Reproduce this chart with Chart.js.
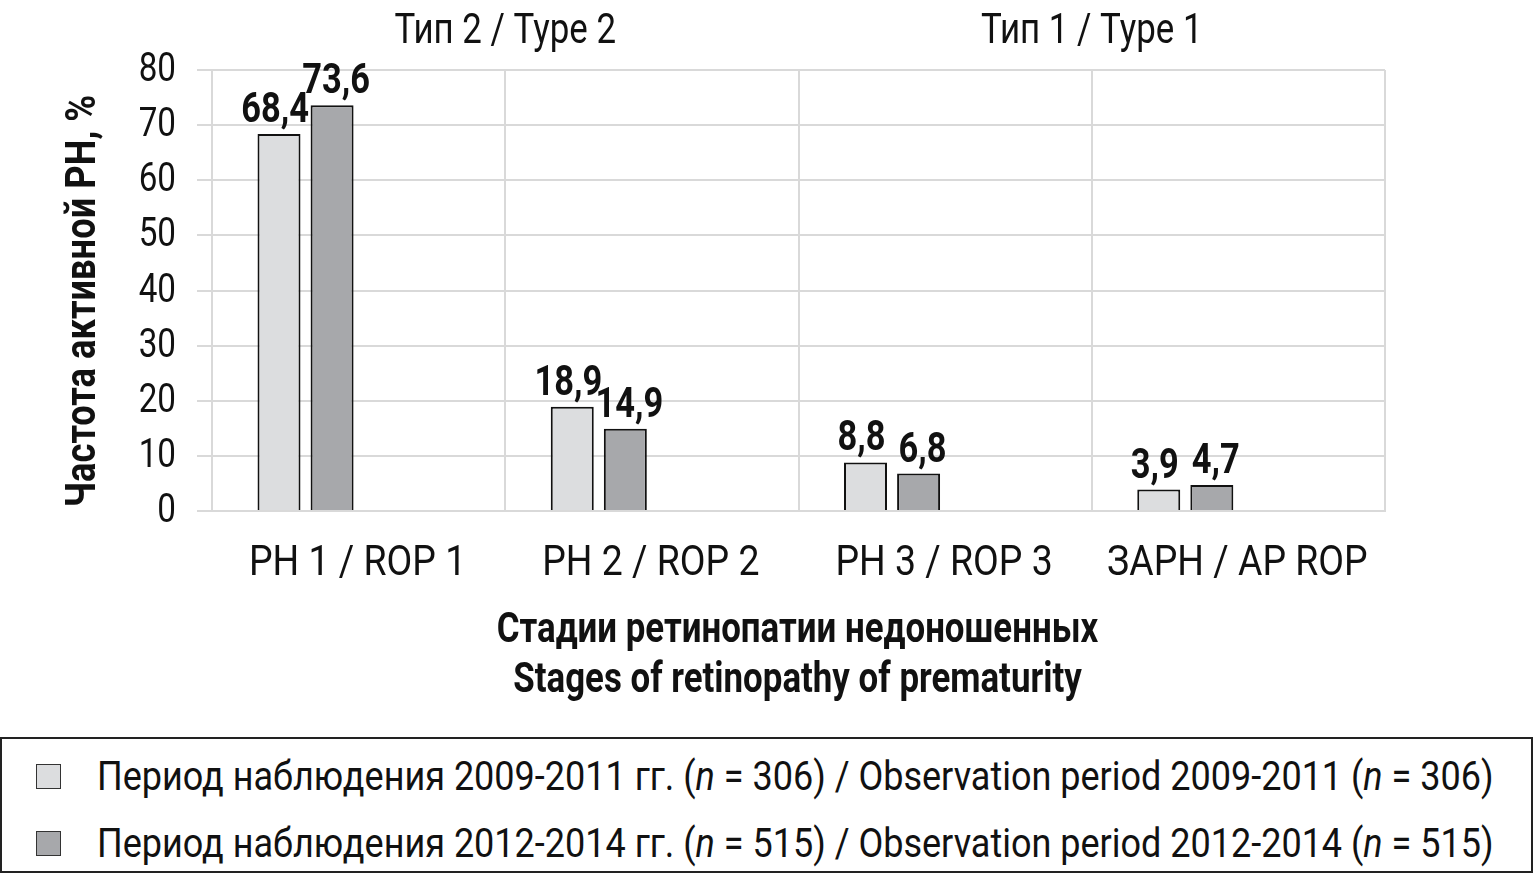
<!DOCTYPE html>
<html>
<head>
<meta charset="utf-8">
<script src="https://cdn.jsdelivr.net/npm/chart.js@4"></script>
<style>
  html, body { margin: 0; padding: 0; background: #fff; }
  body { width: 1535px; height: 888px; position: relative; overflow: hidden; font-family: Roboto, sans-serif; }
  #wrap { position: absolute; left: 0; top: 0; width: 1535px; height: 730px; }
  #legend { position: absolute; left: 0; top: 737px; width: 1529px; height: 132px;
            border: 2px solid #222; color: #111; }
  .item { position: absolute; left: 34px; height: 40px; display: flex; align-items: center; white-space: nowrap; }
  .sw { width: 25px; height: 25px; border: 1.5px solid #333; box-sizing: border-box; flex: none; }
  .txt { display: inline-block; margin-left: 36px; font-size: 40px; transform: scaleX(0.9); transform-origin: left center; }
</style>
</head>
<body>
<div id="wrap"><canvas id="c" width="1535" height="730"></canvas></div>
<div id="legend">
  <div class="item" style="top:17px"><div class="sw" style="background:#dcdddf"></div><span class="txt">Период наблюдения 2009-2011 гг. (<i>n</i> = 306) / Observation period 2009-2011 (<i>n</i> = 306)</span></div>
  <div class="item" style="top:84px"><div class="sw" style="background:#a7a8ab"></div><span class="txt">Период наблюдения 2012-2014 гг. (<i>n</i> = 515) / Observation period 2012-2014 (<i>n</i> = 515)</span></div>
</div>
<script>
const categories = ['РН 1 / ROP 1', 'РН 2 / ROP 2', 'РН 3 / ROP 3', 'ЗАРН / AP ROP'];
const period2009 = [68.4, 18.9, 8.8, 3.9];
const period2012 = [73.6, 14.9, 6.8, 4.7];
const typeLabels = ['Тип 2 / Type 2', 'Тип 1 / Type 1'];
const yTickValues = [0, 10, 20, 30, 40, 50, 60, 70, 80];
const seriesNames = ['Период наблюдения 2009-2011 гг. (n = 306) / Observation period 2009-2011 (n = 306)',
                     'Период наблюдения 2012-2014 гг. (n = 515) / Observation period 2012-2014 (n = 515)'];
const yTitle = 'Частота активной РН, %';
const xTitle = ['Стадии ретинопатии недоношенных', 'Stages of retinopathy of prematurity'];
const emptySlots = [null, null, null, null];

const FONT = "Roboto, 'Liberation Sans', sans-serif";
const TXT = '#111';
const GRID = '#d9d9d9';

function narrowText(ctx, text, x, y, font, sx, align, baseline, rot) {
  ctx.save();
  ctx.font = font;
  ctx.fillStyle = TXT;
  ctx.textAlign = align;
  ctx.textBaseline = baseline;
  ctx.translate(x, y);
  if (rot) ctx.rotate(rot);
  ctx.scale(sx, 1);
  ctx.fillText(text, 0, 0);
  ctx.restore();
}

const textLayer = {
  id: 'textLayer',
  afterDraw(chart) {
    const ctx = chart.ctx;
    const xs = chart.scales.x, ys = chart.scales.y, ca = chart.chartArea;
    yTickValues.forEach(v => narrowText(ctx, String(v), 176, ys.getPixelForValue(v) + 1, '40px ' + FONT, 0.83, 'right', 'middle'));
    categories.forEach((c, i) => narrowText(ctx, c, xs.getPixelForValue(i) - 1, 564, '43px ' + FONT, 0.87, 'center', 'middle'));
    typeLabels.forEach((t, k) => {
      const xm = (xs.getPixelForValue(2 * k) + xs.getPixelForValue(2 * k + 1)) / 2;
      narrowText(ctx, t, xm, 32, '42px ' + FONT, 0.83, 'center', 'middle');
    });
    const cx = (ca.left + ca.right) / 2;
    xTitle.forEach((t, k) => narrowText(ctx, t, cx - 1, 631 + k * 50, 'bold 42px ' + FONT, 0.83, 'center', 'middle'));
    narrowText(ctx, yTitle, 84, 301, 'bold 43px ' + FONT, 0.845, 'center', 'middle', -Math.PI / 2);
    [0, 1].forEach(di => {
      chart.getDatasetMeta(di).data.forEach((bar, i) => {
        const v = chart.data.datasets[di].data[i];
        if (v == null) return;
        narrowText(ctx, v.toFixed(1).replace('.', ','), bar.x + (di === 0 ? -4 : 4), bar.y - 12, 'bold 42px ' + FONT, 0.82, 'center', 'alphabetic');
      });
    });
  }
};

new Chart(document.getElementById('c'), {
  type: 'bar',
  data: {
    labels: categories,
    datasets: [
      { label: seriesNames[0], data: period2009, backgroundColor: '#dcdddf', borderColor: '#111', borderWidth: 2 },
      { label: seriesNames[1], data: period2012, backgroundColor: '#a7a8ab', borderColor: '#111', borderWidth: 2 },
      { label: '', data: emptySlots },
      { label: '', data: emptySlots }
    ]
  },
  options: {
    responsive: false,
    animation: false,
    devicePixelRatio: 1,
    categoryPercentage: 0.724,
    barPercentage: 0.81,
    layout: { padding: { left: 0, right: 150, top: 70, bottom: 0 } },
    plugins: { legend: { display: false }, tooltip: { enabled: false }, title: { display: false } },
    scales: {
      x: {
        type: 'category',
        offset: true,
        grid: { color: GRID, lineWidth: 2, drawTicks: false, offset: true },
        border: { color: GRID, width: 2 },
        ticks: { display: false },
        afterFit(s) { s.height = 730 - 511; }
      },
      y: {
        min: 0, max: 80,
        ticks: { stepSize: 10, display: false },
        grid: { color: GRID, lineWidth: 2, tickLength: 15 },
        border: { color: GRID, width: 2 },
        afterFit(s) { s.width = 212; }
      }
    }
  },
  plugins: [textLayer]
});
</script>
</body>
</html>
